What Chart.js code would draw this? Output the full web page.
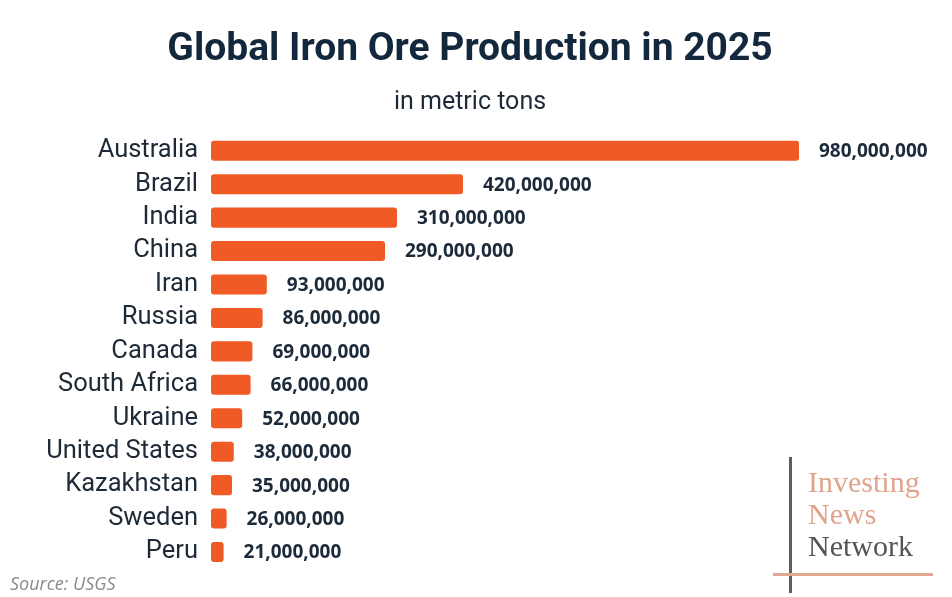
<!DOCTYPE html>
<html>
<head>
<meta charset="utf-8">
<script src="https://cdn.jsdelivr.net/npm/chart.js@4.4.1/dist/chart.umd.min.js"></script>
<style>
  html, body { margin: 0; padding: 0; background: #ffffff; }
  #wrap { position: relative; width: 952px; height: 597px; overflow: hidden; background: #fff; }
  #chartBox { position: absolute; left: 0; top: 0; width: 952px; height: 597px; }
  .txt { position: absolute; white-space: nowrap; }
  #title { left: 0; width: 940px; top: 24px; text-align: center; font: bold 39px Roboto, sans-serif; color: #13283c; }
  #subtitle { left: 0; width: 940px; top: 86px; text-align: center; font: 25px Roboto, sans-serif; color: #1e2a38; }
  #source { left: 10px; top: 571px; font: italic 18px "Open Sans", sans-serif; color: #8a8a8a; }
  .logo { left: 808px; font: 30px "Liberation Serif", serif; line-height: 32px; }
  #vline { position: absolute; left: 789px; top: 457px; width: 3px; height: 136px; background: #5d5d5d; }
  #hline { position: absolute; left: 773px; top: 573px; width: 160px; height: 3px; background: #e2a78f; }
</style>
</head>
<body>
<div id="wrap">
  <div id="chartBox"><canvas id="c"></canvas></div>
  <div class="txt" id="title">Global Iron Ore Production in 2025</div>
  <div class="txt" id="subtitle">in metric tons</div>
  <div class="txt" id="source">Source: USGS</div>
  <div id="vline"></div>
  <div id="hline"></div>
  <div class="txt logo" style="top:466px;color:#e0a48c;">Investing</div>
  <div class="txt logo" style="top:498px;color:#e0a48c;">News</div>
  <div class="txt logo" style="top:530px;color:#555555;">Network</div>
</div>
<script>
const countries = ["Australia", "Brazil", "India", "China", "Iran", "Russia", "Canada", "South Africa", "Ukraine", "United States", "Kazakhstan", "Sweden", "Peru"];
const production = [980000000, 420000000, 310000000, 290000000, 93000000, 86000000, 69000000, 66000000, 52000000, 38000000, 35000000, 26000000, 21000000];
const xMax = 1200000000;

const valueLabels = {
  id: 'valueLabels',
  afterDatasetsDraw(chart) {
    const ctx = chart.ctx;
    const meta = chart.getDatasetMeta(0);
    ctx.save();
    ctx.font = 'bold 19px "Open Sans", sans-serif';
    ctx.fillStyle = '#1c2a3a';
    ctx.textAlign = 'left';
    ctx.textBaseline = 'middle';
    meta.data.forEach((el, i) => {
      ctx.fillText(production[i].toLocaleString('en-US'), el.x + 20, el.y + 1);
    });
    ctx.restore();
  }
};

new Chart(document.getElementById('c'), {
  type: 'bar',
  data: {
    labels: countries,
    datasets: [{
      data: production,
      backgroundColor: '#f05a24',
      borderRadius: 3,
      borderSkipped: false,
      barPercentage: 0.6,
      categoryPercentage: 1.0
    }]
  },
  options: {
    indexAxis: 'y',
    responsive: true,
    maintainAspectRatio: false,
    animation: false,
    layout: { padding: { top: 134, bottom: 28, left: 0, right: 21 } },
    plugins: { legend: { display: false }, tooltip: { enabled: false } },
    scales: {
      x: { display: false, min: 0, max: xMax },
      y: {
        grid: { display: false, drawTicks: false },
        border: { display: false },
        ticks: { autoSkip: false, padding: 13, color: '#1e2a38', font: { family: 'Roboto', size: 25.5 } },
        afterFit(scale) { scale.width = 211; }
      }
    }
  },
  plugins: [valueLabels]
});
</script>
</body>
</html>
